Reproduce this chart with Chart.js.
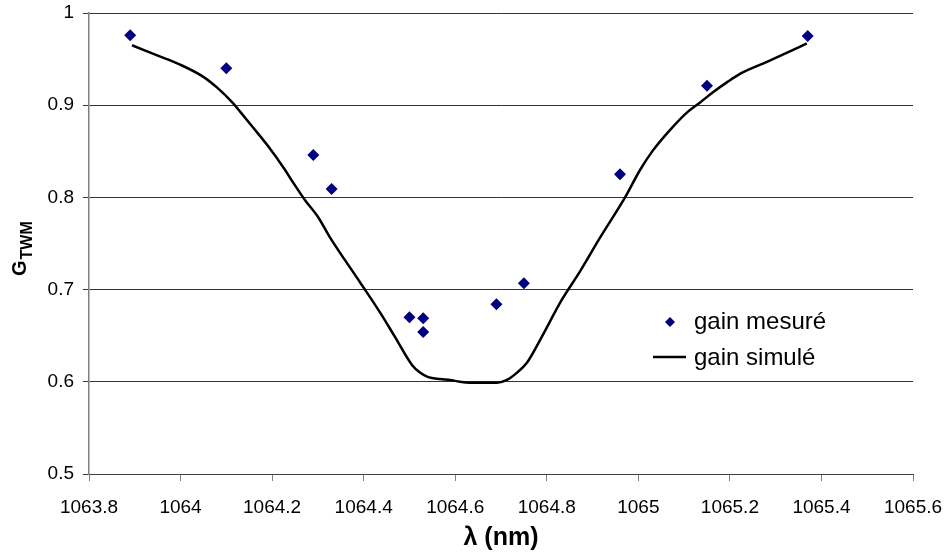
<!DOCTYPE html>
<html>
<head>
<meta charset="utf-8">
<script src="https://cdn.jsdelivr.net/npm/chart.js@4.4.0/dist/chart.umd.min.js"></script>
<style>
  body { margin: 0; background: #fff; }
  #wrap { width: 945px; height: 557px; position: relative; }
</style>
</head>
<body>
<div id="wrap"><canvas id="graphe" width="945" height="557"></canvas></div>
<script>
// gain mesuré (points)
const mesureX = [1063.89, 1064.10, 1064.29, 1064.33, 1064.50, 1064.53, 1064.53, 1064.69, 1064.75, 1064.96, 1065.15, 1065.37];
const mesureY = [0.976, 0.940, 0.846, 0.809, 0.670, 0.669, 0.654, 0.684, 0.707, 0.825, 0.921, 0.975];

// gain simulé (courbe)
const simuleX = [1063.894, 1063.949, 1063.999, 1064.049, 1064.080, 1064.115, 1064.130, 1064.158, 1064.189, 1064.228,
  1064.246, 1064.272, 1064.300, 1064.326, 1064.392, 1064.436, 1064.468, 1064.506, 1064.523, 1064.541,
  1064.567, 1064.589, 1064.610, 1064.632, 1064.691, 1064.713, 1064.735, 1064.757, 1064.785, 1064.833,
  1064.873, 1064.916, 1064.971, 1065.004, 1065.032, 1065.069, 1065.106, 1065.135, 1065.163, 1065.194,
  1065.222, 1065.281, 1065.325, 1065.368];
const simuleY = [0.965, 0.954, 0.944, 0.931, 0.919, 0.902, 0.893, 0.876, 0.857, 0.830,
  0.816, 0.797, 0.779, 0.757, 0.708, 0.675, 0.649, 0.618, 0.610, 0.605,
  0.603, 0.602, 0.600, 0.599, 0.599, 0.602, 0.610, 0.621, 0.645, 0.689,
  0.720, 0.756, 0.800, 0.830, 0.851, 0.873, 0.892, 0.903, 0.914, 0.925,
  0.934, 0.947, 0.957, 0.967];

const xTicks = [1063.8, 1064, 1064.2, 1064.4, 1064.6, 1064.8, 1065, 1065.2, 1065.4, 1065.6];
const yTicks = [0.5, 0.6, 0.7, 0.8, 0.9, 1];
const legendeLabels = ["gain mesuré", "gain simulé"];

const police = "'Liberation Sans', Arial, sans-serif";
const bleu = "#000080";

const fmt = v => String(parseFloat(v.toFixed(2)));

// titre de l'axe y avec indice, et légende dans la zone du graphe
const dessins = {
  id: "dessins",
  afterDraw(chart) {
    const ctx = chart.ctx;
    ctx.save();
    // G_TWM, écrit verticalement
    ctx.rotate(-Math.PI / 2);
    ctx.fillStyle = "#000";
    ctx.textBaseline = "alphabetic";
    ctx.textAlign = "left";
    ctx.font = "bold 20px " + police;
    const wG = ctx.measureText("G").width;
    ctx.fillText("G", -276, 26);
    ctx.font = "bold 16px " + police;
    ctx.fillText("TWM", -276 + wG + 1, 32);
    ctx.restore();

    // légende
    ctx.save();
    ctx.font = "24px " + police;
    ctx.fillStyle = "#000";
    ctx.textBaseline = "alphabetic";
    ctx.fillText(legendeLabels[0], 694, 329);
    ctx.fillText(legendeLabels[1], 694, 365);
    ctx.fillStyle = bleu;
    ctx.beginPath();
    ctx.moveTo(670, 317);
    ctx.lineTo(675, 322);
    ctx.lineTo(670, 327);
    ctx.lineTo(665, 322);
    ctx.closePath();
    ctx.fill();
    ctx.strokeStyle = "#000";
    ctx.lineWidth = 2.5;
    ctx.beginPath();
    ctx.moveTo(653, 357);
    ctx.lineTo(686, 357);
    ctx.stroke();
    ctx.restore();
  }
};

new Chart(document.getElementById("graphe").getContext("2d"), {
  type: "scatter",
  data: {
    datasets: [
      {
        label: legendeLabels[1],
        data: simuleX.map((x, i) => ({ x: x, y: simuleY[i] })),
        showLine: true,
        borderColor: "#000",
        borderWidth: 2.5,
        pointRadius: 0,
        cubicInterpolationMode: "monotone",
        order: 2
      },
      {
        label: legendeLabels[0],
        data: mesureX.map((x, i) => ({ x: x, y: mesureY[i] })),
        pointStyle: "rectRot",
        pointRadius: 6,
        pointBackgroundColor: bleu,
        pointBorderColor: bleu,
        pointBorderWidth: 0,
        order: 1
      }
    ]
  },
  options: {
    responsive: false,
    animation: false,
    layout: { padding: { left: 0, right: 32, top: 13, bottom: 0 } },
    plugins: {
      legend: { display: false },
      tooltip: { enabled: false }
    },
    scales: {
      x: {
        type: "linear",
        min: 1063.8,
        max: 1065.6,
        afterBuildTicks: axis => { axis.ticks = xTicks.map(v => ({ value: v })); },
        afterFit: axis => {
          axis.height = 557 - 474;
          axis.paddingLeft = 0;
          axis.paddingRight = 0;
        },
        ticks: {
          callback: v => fmt(v),
          font: { family: police, size: 19 },
          color: "#000",
          padding: 15,
          maxRotation: 0,
          autoSkip: false
        },
        grid: { drawOnChartArea: false, drawTicks: true, tickLength: 7, color: "#808080" },
        border: { color: "#404040", width: 1 },
        title: {
          display: true,
          text: "λ (nm)",
          font: { family: police, size: 25, weight: "bold" },
          color: "#000",
          padding: { top: 0 }
        }
      },
      y: {
        min: 0.5,
        max: 1,
        afterBuildTicks: axis => { axis.ticks = yTicks.map(v => ({ value: v })); },
        afterFit: axis => {
          axis.width = 89;
          axis.paddingTop = 0;
          axis.paddingBottom = 0;
        },
        ticks: {
          callback: v => fmt(v),
          font: { family: police, size: 19 },
          color: "#000",
          padding: 9
        },
        grid: { color: "#333", lineWidth: 1, tickLength: 6, drawTicks: true },
        border: { color: "#808080", width: 1.5 }
      }
    }
  },
  plugins: [dessins]
});
</script>
</body>
</html>
